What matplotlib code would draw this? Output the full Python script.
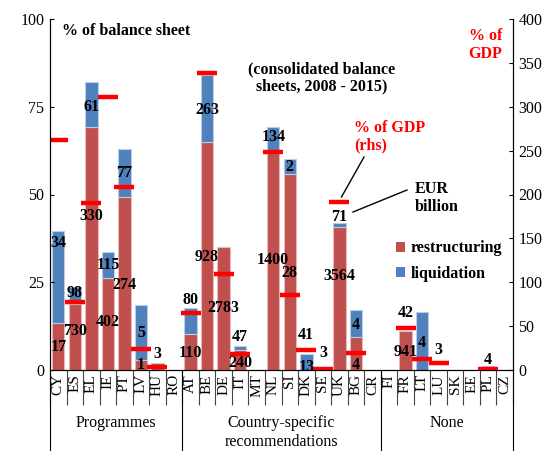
import numpy as np
import matplotlib
matplotlib.use("Agg")
import matplotlib.pyplot as plt
from matplotlib.patches import Patch
from matplotlib.lines import Line2D

plt.rcParams['font.family'] = ['Liberation Serif', 'DejaVu Serif']

# ---- data ----
countries = ["CY", "ES", "EL", "IE", "PT", "LV", "HU", "RO",
             "AT", "BE", "DE", "IT", "MT", "NL", "SI", "DK", "SE", "UK", "BG", "CR",
             "FI", "FR", "LT", "LU", "SK", "EE", "PL", "CZ"]
groups = ["Programmes", "Country-specific\nrecommendations", "None"]
group_sizes = [8, 12, 8]

# % of balance sheet
restructuring = [13.3, 18.8, 69.3, 26.3, 49.2, 2.8, 1.9, 0,
                 10.3, 65.0, 35.1, 5.7, 0, 61.7, 55.8, 0, 0, 40.8, 9.3, 0,
                 0, 11.1, 0, 0, 0, 0, 0, 0]
liquidation = [26.4, 4.9, 12.8, 7.4, 13.7, 15.7, 0, 0,
               7.5, 19.0, 0, 1.2, 0, 7.6, 4.3, 4.7, 0, 1.0, 7.8, 0,
               0, 0, 16.4, 0, 0, 0, 1.0, 0]
# % of GDP (rhs), None = not shown
gdp = [262, 77, 190, 311, 209, 24, 3, None,
       65, 338, 109, 18, None, 249, 85, 23, 1.5, 191, 19, None,
       None, 48, 12.5, 7.6, None, None, 1.5, None]
# EUR billion labels
res_eur = ["17", "730", "330", "402", "274", "1", "3", "",
           "110", "928", "2783", "240", "", "1400", "28", "13", "3", "3564", "4", "",
           "", "941", "4", "3", "", "", "4", ""]
liq_eur = ["34", "98", "61", "115", "77", "5", "", "",
           "80", "263", "", "47", "", "134", "2", "41", "", "71", "4", "",
           "", "42", "", "", "", "", "", ""]

# ---- label placement (left axis units) ----
res_lab_y = [6.6, 11.2, 43.9, 13.8, 24.2, 1.4, 4.6, 0,
             4.9, 32.1, 17.6, 1.9, 0, 31.3, 27.5, 0.8, 4.9, 26.9, 1.4, 0,
             0, 5.2, 7.6, 5.7, 0, 0, 2.8, 0]
liq_lab_y = [36.2, 21.9, 75.0, 29.9, 56.0, 10.5, 0, 0,
             19.9, 74.1, 0, 9.3, 0, 66.5, 57.9, 10.0, 0, 43.7, 12.8, 0,
             0, 16.2, 0, 0, 0, 0, 0, 0]

red = "#C0504D"
blue = "#4F81BD"

fig = plt.figure(figsize=(5.53, 4.51), dpi=100)
ax = fig.add_axes([50 / 553, 1 - 370 / 451, 463 / 553, 351 / 451])
x = np.arange(len(countries))

ax.bar(x, restructuring, width=0.75, color=red, edgecolor="#E6B9B8", linewidth=0.8)
ax.bar(x, liquidation, width=0.75, bottom=restructuring, color=blue,
       edgecolor="#B9CDE5", linewidth=0.8)

for i in range(len(countries)):
    if res_eur[i]:
        ax.text(x[i], res_lab_y[i], res_eur[i], ha="center", va="center",
                fontsize=11.5, fontweight="bold")
    if liq_eur[i]:
        ax.text(x[i], liq_lab_y[i], liq_eur[i], ha="center", va="center",
                fontsize=11.5, fontweight="bold")

ax.set_xlim(-0.5, len(countries) - 0.5)
ax.set_ylim(0, 100)
ax.set_yticks([0, 25, 50, 75, 100])
ax.tick_params(axis="y", direction="in", length=3, labelsize=11.5, pad=4)
ax.spines["top"].set_visible(False)

# category labels + separators
ax.set_xticks(x)
ax.set_xticklabels(countries, rotation=90, fontsize=11)
ax.tick_params(axis="x", which="major", length=0, pad=3)
ax.set_xticks(np.arange(len(countries) + 1) - 0.5, minor=True)
ax.tick_params(axis="x", which="minor", direction="out", length=25, width=0.8, color="#444444")

# group separators and labels
tr = ax.get_xaxis_transform()
bounds = np.concatenate([[0], np.cumsum(group_sizes)]) - 0.5
for b in bounds:
    ax.add_line(Line2D([b, b], [0, -0.235], transform=tr, color="black",
                       linewidth=0.8, clip_on=False))
for g, lo, hi in zip(groups, bounds[:-1], bounds[1:]):
    yy = -0.151 if "\n" not in g else -0.178
    ax.text((lo + hi) / 2, yy, g, transform=tr, ha="center", va="center", fontsize=11.5)

# GDP dashes on right axis
ax2 = ax.twinx()
gx = [xi for xi, g in zip(x, gdp) if g is not None]
gy = [g for g in gdp if g is not None]
ax2.plot(gx, gy, linestyle="none", marker="_", markersize=14,
         markeredgewidth=3.2, color="#FF0000")
ax2.set_ylim(0, 400)
ax2.set_yticks(range(0, 401, 50))
ax2.tick_params(axis="y", direction="in", length=3, labelsize=11.5, pad=4)
ax2.spines["top"].set_visible(False)

# annotations
ax.text(0.026, 0.966, "% of balance sheet", transform=ax.transAxes, ha="left",
        va="center", fontsize=11.5, fontweight="bold")
ax.text(0.5875, 0.832, "(consolidated balance\nsheets, 2008 - 2015)",
        transform=ax.transAxes, ha="center", va="center", fontsize=11.5,
        fontweight="bold", linespacing=1.15)
ax2.text(0.657, 0.664, "% of GDP\n(rhs)", transform=ax.transAxes, ha="left",
         va="center", fontsize=11.5, fontweight="bold", color="#FF0000",
         linespacing=1.15)
ax2.text(0.788, 0.491, "EUR\nbillion", transform=ax.transAxes, ha="left",
         va="center", fontsize=11.5, fontweight="bold", linespacing=1.15)
ax2.text(0.9406, 0.926, "% of\nGDP", transform=ax.transAxes, ha="center",
         va="center", fontsize=11.5, fontweight="bold", color="#FF0000",
         linespacing=1.15)
ax2.add_line(Line2D([0.6782, 0.6296], [0.6068, 0.4929], transform=ax.transAxes,
                    color="black", linewidth=1))
ax2.add_line(Line2D([0.771, 0.6544], [0.5128, 0.4501], transform=ax.transAxes,
                    color="black", linewidth=1))

handles = [Patch(facecolor=red, edgecolor="none", label="restructuring"),
           Patch(facecolor=blue, edgecolor="none", label="liquidation")]
ax2.legend(handles=handles, loc="upper left", bbox_to_anchor=(0.716, 0.41),
           frameon=False, handlelength=0.6, handleheight=0.6, handletextpad=0.3,
           labelspacing=0.6, prop={"weight": "bold", "size": 11.5})

fig.savefig("out.png", dpi=100)
